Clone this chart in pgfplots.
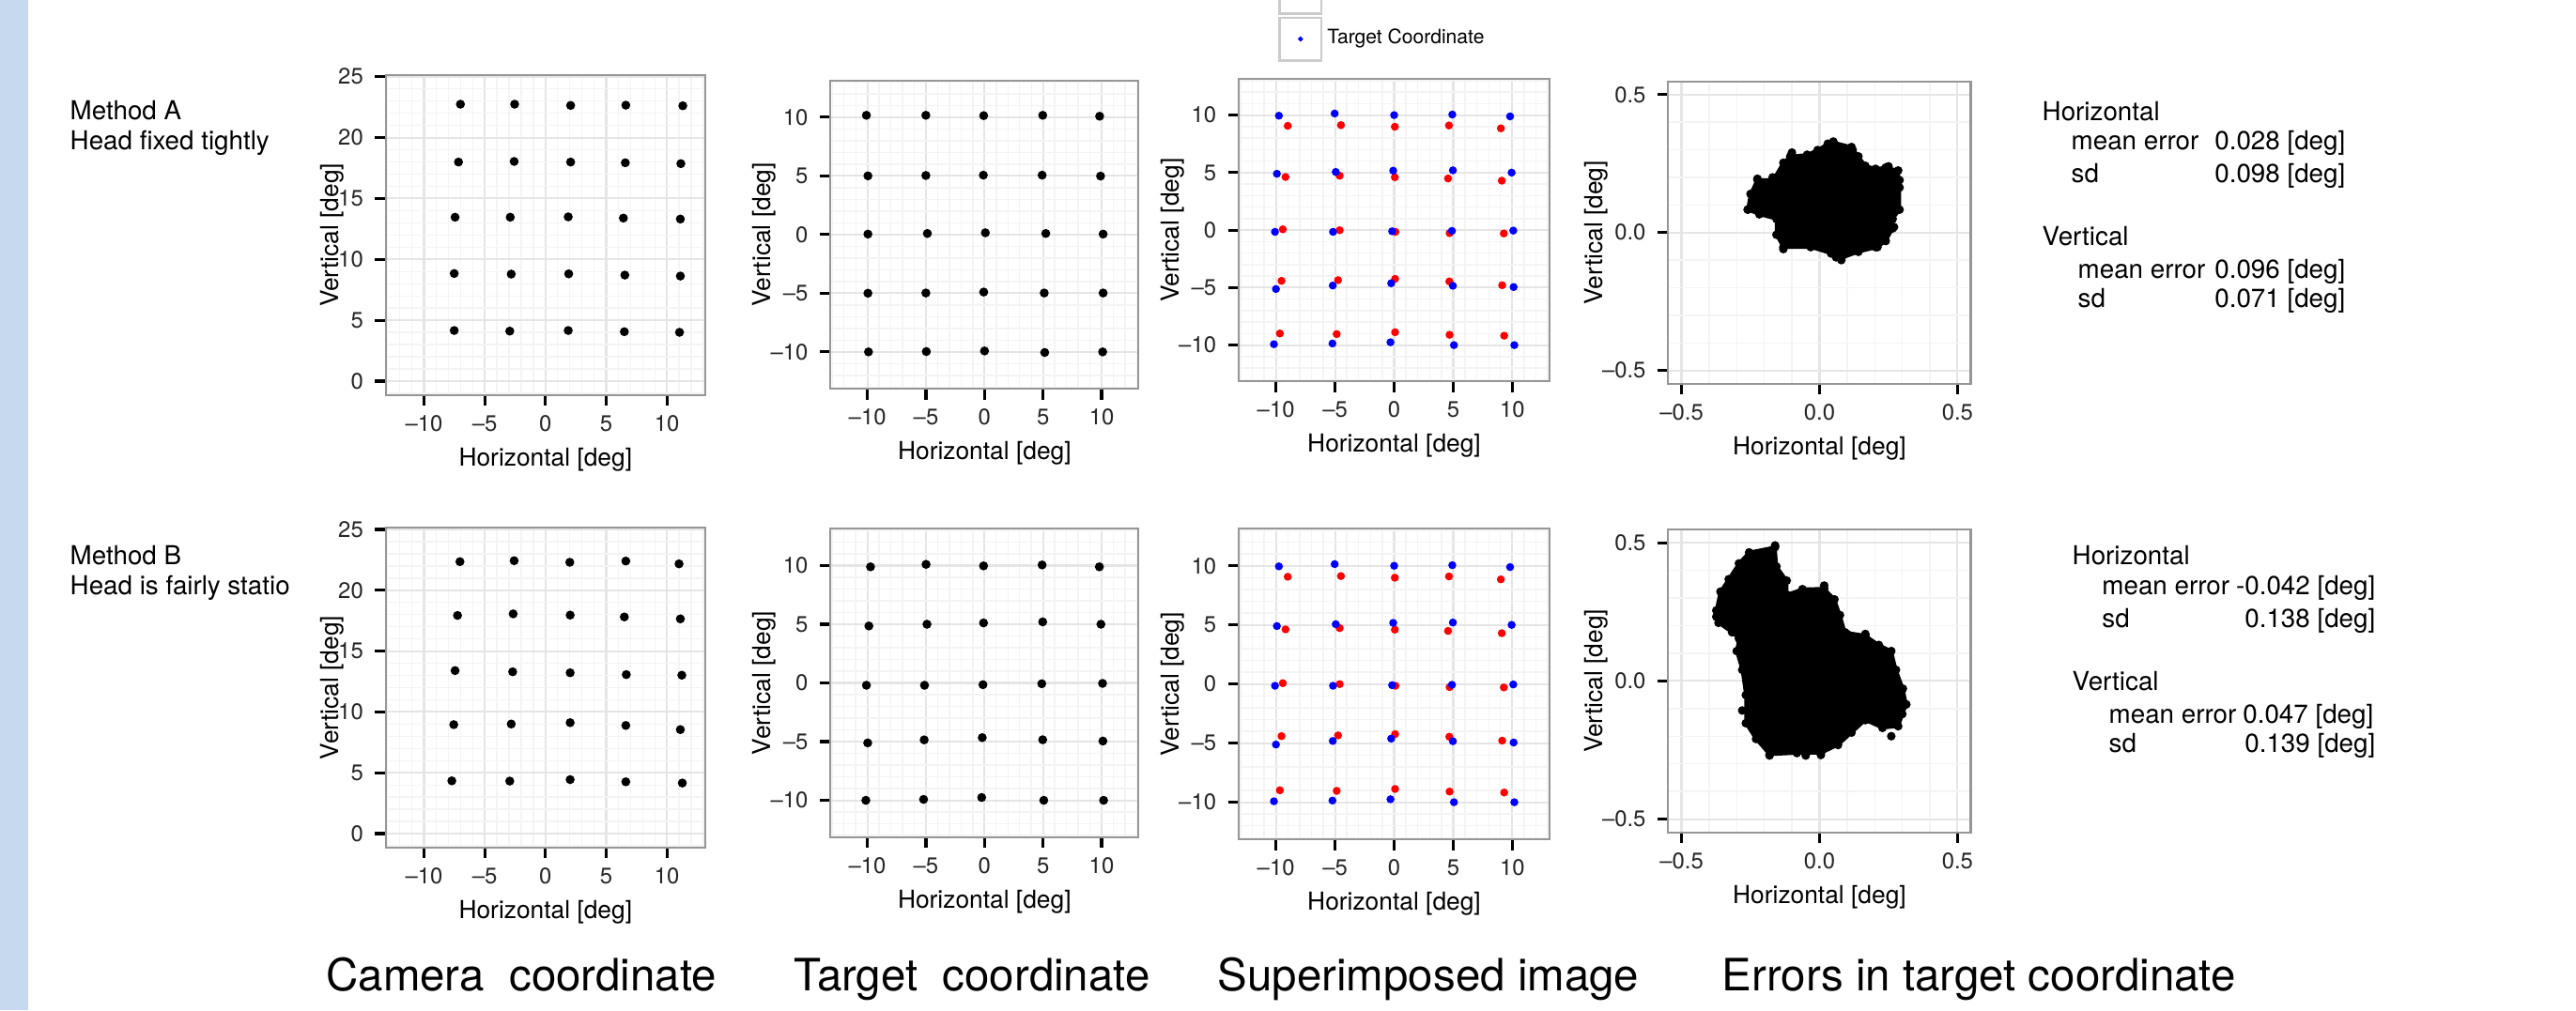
\documentclass[border=0pt]{standalone}
\usepackage{pgfplots}
\usepackage{pgfplotstable}
\pgfplotsset{compat=1.18}
\usepackage{fontspec}
\setmainfont{TeX Gyre Heros}
\definecolor{slidebar}{RGB}{198,217,238}
\definecolor{gridmaj}{RGB}{229,229,229}
\definecolor{gridmin}{RGB}{244,244,244}
\definecolor{panelborder}{RGB}{150,150,150}
\definecolor{ggred}{RGB}{255,0,0}
\definecolor{ggblue}{RGB}{0,0,255}
\newcommand{\txt}{\fontsize{7.9}{9}\selectfont}
\newcommand{\bigtxt}{\fontsize{13.5}{16}\selectfont}

\pgfplotstableread{
x y
-7.00 22.74
-2.54 22.74
2.07 22.64
6.61 22.66
11.30 22.61
-7.16 17.99
-2.58 18.04
2.07 17.99
6.57 17.93
11.14 17.86
-7.44 13.46
-2.90 13.46
1.87 13.49
6.41 13.39
11.10 13.31
-7.51 8.84
-2.82 8.79
1.91 8.81
6.53 8.71
11.10 8.63
-7.51 4.16
-2.94 4.11
1.87 4.16
6.49 4.06
11.03 4.01
}\camA

\pgfplotstableread{
x y
-7.04 22.35
-2.58 22.43
2.00 22.30
6.61 22.40
10.99 22.17
-7.24 17.93
-2.66 18.06
2.03 17.96
6.49 17.81
11.10 17.65
-7.44 13.40
-2.70 13.30
2.03 13.22
6.65 13.07
11.22 13.02
-7.55 8.96
-2.82 9.01
2.03 9.12
6.61 8.89
11.10 8.55
-7.71 4.34
-2.94 4.32
2.03 4.44
6.61 4.26
11.26 4.16
}\camB

\pgfplotstableread{
x y
-10.09 10.16
-5.01 10.16
-0.07 10.13
4.97 10.16
9.83 10.08
-9.96 5.00
-5.01 5.03
-0.10 5.06
4.92 5.06
9.91 4.98
-9.96 0.04
-4.88 0.09
0.07 0.15
5.23 0.09
10.13 0.04
-9.96 -5.00
-5.01 -4.98
-0.07 -4.90
5.10 -4.98
10.13 -4.98
-9.91 -10.00
-4.97 -9.97
0.00 -9.92
5.14 -10.05
10.09 -10.00
}\tarA

\pgfplotstableread{
x y
-9.73 9.89
-4.99 10.10
-0.08 9.97
4.92 10.05
9.81 9.89
-9.87 4.85
-4.91 5.00
-0.08 5.11
4.97 5.20
9.94 5.00
-10.08 -0.20
-5.12 -0.20
-0.13 -0.15
4.89 -0.07
10.08 -0.04
-9.97 -5.11
-5.15 -4.85
-0.19 -4.66
4.97 -4.84
10.11 -4.95
-10.13 -10.00
-5.20 -9.92
-0.24 -9.76
5.06 -10.00
10.17 -10.00
}\tarB

\pgfplotstableread{
x y
-9.00 9.07
-4.50 9.13
0.06 8.99
4.64 9.10
9.03 8.85
-9.19 4.62
-4.61 4.73
0.06 4.60
4.56 4.49
9.11 4.30
-9.42 0.07
-4.61 -0.01
0.11 -0.15
4.69 -0.26
9.28 -0.29
-9.53 -4.41
-4.75 -4.35
0.08 -4.24
4.67 -4.46
9.14 -4.79
-9.67 -8.99
-4.86 -9.04
0.08 -8.88
4.69 -9.10
9.31 -9.18
}\supRed

\pgfplotstableread{
x y
-9.75 9.95
-5.03 10.14
0.00 10.00
4.92 10.05
9.81 9.89
-9.92 4.90
-4.94 5.06
-0.08 5.17
4.97 5.20
9.94 5.00
-10.08 -0.15
-5.17 -0.15
-0.17 -0.10
4.89 -0.07
10.08 -0.04
-10.00 -5.12
-5.19 -4.82
-0.25 -4.62
4.97 -4.84
10.11 -4.95
-10.17 -9.92
-5.22 -9.86
-0.31 -9.75
5.06 -10.00
10.17 -10.00
}\supBlue

\pgfplotstableread{
x y
0.05 0.327
0.116 0.31
0.141 0.276
0.166 0.242
0.203 0.231
0.24 0.236
0.285 0.225
0.29 0.163
0.29 0.083
0.265 0.049
0.265 0.015
0.24 -0.031
0.21 -0.053
0.141 -0.07
0.079 -0.093
0.042 -0.076
-0.032 -0.053
-0.131 -0.053
-0.156 -0.008
-0.156 0.049
-0.218 0.066
-0.26 0.083
-0.25 0.14
-0.225 0.191
-0.168 0.191
-0.131 0.253
-0.106 0.276
-0.045 0.282
-0.007 0.299
0.03 0.322
}\blobA

\pgfplotstableread{
x y
-0.255 0.465
-0.161 0.484
-0.156 0.414
-0.119 0.363
-0.119 0.312
-0.062 0.332
0.017 0.334
0.054 0.295
0.074 0.238
0.092 0.176
0.166 0.164
0.215 0.13
0.26 0.108
0.277 0.04
0.302 -0.028
0.314 -0.085
0.285 -0.164
0.228 -0.17
0.166 -0.142
0.116 -0.187
0.067 -0.232
0.005 -0.261
-0.082 -0.261
-0.181 -0.266
-0.23 -0.21
-0.267 -0.153
-0.267 -0.051
-0.28 0.04
-0.3 0.108
-0.292 0.153
-0.317 0.176
-0.366 0.21
-0.374 0.255
-0.359 0.323
-0.329 0.368
-0.292 0.425
}\blobB

\pgfplotsset{
  gg/.style={
    scale only axis, anchor=south west,
    axis line style={draw=panelborder, line width=0.6pt},
    grid=both,
    major grid style={draw=gridmaj, line width=0.6pt},
    minor grid style={draw=gridmin, line width=0.4pt},
    tick align=outside,
    tick pos=left,
    major tick length=1.15mm,
    minor tick length=0pt,
    major tick style={black, line width=0.9pt},
    tick label style={font=\fontsize{6.8}{7}\selectfont, text=black!85},
    xticklabel style={yshift=0.02cm},
    label style={font=\fontsize{7.5}{8}\selectfont},
    xlabel={Horizontal [deg]}, ylabel={Vertical [deg]},
    xlabel style={yshift=0.07cm},
    ylabel style={yshift=-0.3cm},
    /pgf/number format/assume math mode=true,
    clip=true,
  },
  degx/.style={xmin=-13.15, xmax=13.15, xtick={-10,-5,0,5,10},
    xticklabels={--10,--5,0,5,10}, minor xtick={-13,-12,...,13}},
  degy/.style={ymin=-13.13, ymax=13.13, ytick={-10,-5,0,5,10},
    yticklabels={--10,--5,0,5,10}, minor ytick={-13,-12,...,13}},
  camy/.style={ymin=-1.13, ymax=25.13, ytick={0,5,10,15,20,25},
    yticklabels={0,5,10,15,20,25}, minor ytick={-1,0,...,25}},
  errxy/.style={xmin=-0.548, xmax=0.548, ymin=-0.548, ymax=0.548,
    xtick={-0.5,0,0.5}, ytick={-0.5,0,0.5},
    xticklabels={--0.5,0.0,0.5}, yticklabels={--0.5,0.0,0.5},
    minor xtick={-0.4,-0.3,-0.2,-0.1,0.1,0.2,0.3,0.4},
    minor ytick={-0.4,-0.3,-0.2,-0.1,0.1,0.2,0.3,0.4}},
  blackdots/.style={only marks, mark=*, mark size=1.15pt, black},
  reddots/.style={only marks, mark=*, mark size=1.0pt, ggred, mark options={draw=ggred, fill=ggred}},
  bluedots/.style={only marks, mark=*, mark size=1.0pt, ggblue, mark options={draw=ggblue, fill=ggblue}},
  blobfill/.style={fill=black, draw=black, line width=1.0pt, line join=round},
  blobedge/.style={only marks, mark=*, mark size=1.1pt, black},
}

\begin{document}
\begin{tikzpicture}
\path[use as bounding box] (0,0) rectangle (27.43cm,10.76cm);
\fill[slidebar] (0,0) rectangle (0.296cm,10.76cm);

% ---------------- Row A ----------------
\begin{axis}[gg, degx, camy, at={(4.107cm,6.553cm)}, width=3.403cm, height=3.407cm]
\addplot[blackdots] table {\camA};
\end{axis}

\begin{axis}[gg, degx, degy, at={(8.844cm,6.62cm)}, width=3.279cm, height=3.283cm]
\addplot[blackdots] table {\tarA};
\end{axis}

\begin{axis}[gg, degx, degy, at={(13.19cm,6.70cm)}, width=3.31cm, height=3.217cm,
  legend style={at={(axis description cs:0.1257,1.056)}, anchor=south west,
    draw=none, fill=none, inner sep=0pt, row sep=0.017cm,
    font=\fontsize{6.0}{6.5}\selectfont, nodes={inner sep=0pt}},
  legend cell align=left,
  legend image code/.code={%
    \draw[draw=black!20, line width=0.7pt, fill=white] (0cm,-0.228cm) rectangle (0.445cm,0.228cm);
    \fill (0.2225cm,0cm) circle (0.55pt);
    \path (0.5cm,0cm);}]
\addplot[reddots] table {\supRed};
\addlegendentry{Camera Coordinate}
\addplot[bluedots] table {\supBlue};
\addlegendentry{Target Coordinate}
\end{axis}

\begin{axis}[gg, errxy, at={(17.764cm,6.673cm)}, width=3.221cm, height=3.22cm]
\addplot[blobfill] table {\blobA} -- cycle;
\addplot[blobedge] table {\blobA};
\addplot[blobedge] coordinates {
(-0.26,0.083)(0.203,-0.053)(-0.131,-0.06)(0.079,-0.1)(0.29,0.19)(0.05,0.33)
(-0.17,0.2)(0.06,-0.09)(-0.225,0.195)(0.25,0.24)(0.27,0.02)(-0.1,0.29)(0.12,0.3)};
\end{axis}

% ---------------- Row B ----------------
\begin{axis}[gg, degx, camy, at={(4.107cm,1.733cm)}, width=3.403cm, height=3.404cm]
\addplot[blackdots] table {\camB};
\end{axis}

\begin{axis}[gg, degx, degy, at={(8.843cm,1.843cm)}, width=3.28cm, height=3.284cm]
\addplot[blackdots] table {\tarB};
\end{axis}

\begin{axis}[gg, degx, degy, at={(13.19cm,1.82cm)}, width=3.31cm, height=3.307cm]
\addplot[reddots] table {\supRed};
\addplot[bluedots] table {\supBlue};
\end{axis}

\begin{axis}[gg, errxy, at={(17.764cm,1.893cm)}, width=3.221cm, height=3.227cm]
\addplot[blobfill] table {\blobB} -- cycle;
\addplot[blobedge] table {\blobB};
\addplot[blobedge] coordinates {
(-0.374,0.232)(0.017,0.345)(0.26,-0.2)(0.005,-0.268)(-0.28,-0.107)(-0.161,0.49)
(0.314,-0.085)(-0.181,-0.27)(0.166,0.17)(-0.21,0.44)(0.1,0.17)(-0.05,-0.27)(0.3,-0.12)};
\end{axis}

% ---------------- Text ----------------
\begin{scope}[every node/.style={inner sep=0pt, font=\txt}]
\node[anchor=base west] at (0.74cm,9.48cm) {Method A};
\node[anchor=base west] at (0.74cm,9.16cm) {Head fixed tightly};
\node[anchor=base west] at (0.74cm,4.743cm) {Method B};
\node[anchor=base west] at (0.74cm,4.427cm) {Head is fairly statio};

\node[anchor=base west] at (21.74cm,9.477cm) {Horizontal};
\node[anchor=base west] at (22.05cm,9.16cm) {mean error};
\node[anchor=base east] at (24.98cm,9.16cm) {0.028 [deg]};
\node[anchor=base west] at (22.05cm,8.81cm) {sd};
\node[anchor=base east] at (24.98cm,8.81cm) {0.098 [deg]};
\node[anchor=base west] at (21.74cm,8.143cm) {Vertical};
\node[anchor=base west] at (22.12cm,7.793cm) {mean error};
\node[anchor=base east] at (24.98cm,7.793cm) {0.096 [deg]};
\node[anchor=base west] at (22.12cm,7.483cm) {sd};
\node[anchor=base east] at (24.98cm,7.483cm) {0.071 [deg]};

\node[anchor=base west] at (22.06cm,4.743cm) {Horizontal};
\node[anchor=base west] at (22.377cm,4.427cm) {mean error};
\node[anchor=base east] at (25.30cm,4.427cm) {-0.042 [deg]};
\node[anchor=base west] at (22.377cm,4.077cm) {sd};
\node[anchor=base east] at (25.30cm,4.077cm) {0.138 [deg]};
\node[anchor=base west] at (22.06cm,3.41cm) {Vertical};
\node[anchor=base west] at (22.45cm,3.06cm) {mean error};
\node[anchor=base east] at (25.28cm,3.06cm) {0.047 [deg]};
\node[anchor=base west] at (22.45cm,2.75cm) {sd};
\node[anchor=base east] at (25.30cm,2.75cm) {0.139 [deg]};
\end{scope}

\begin{scope}[every node/.style={inner sep=0pt, font=\bigtxt, anchor=base west}]
\node at (3.467cm,0.203cm) {Camera\ \ coordinate};
\node at (8.45cm,0.203cm) {Target\ \ coordinate};
\node at (12.96cm,0.203cm) {Superimposed image};
\node at (18.33cm,0.203cm) {Errors in target coordinate};
\end{scope}
\end{tikzpicture}
\end{document}
